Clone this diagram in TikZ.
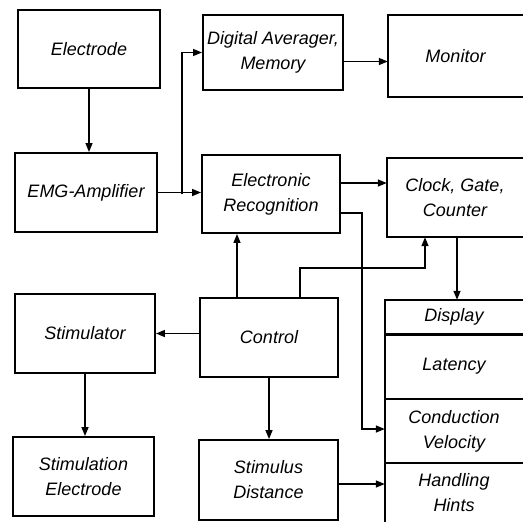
\documentclass[tikz,border=0pt]{standalone}
\usepackage{fontspec}
\setmainfont{Liberation Sans}
\usetikzlibrary{positioning,arrows.meta}

\begin{document}
\begin{tikzpicture}[
    x=1pt, y=-1pt,
    every node/.style={font=\fontsize{18}{25}\selectfont\itshape},
    blockStyle/.style={draw, line width=1.9pt, align=center, inner sep=0pt},
    openBlock/.style={align=center, inner sep=0pt},
    boxLine/.style={line width=1.9pt},
    flowArrow/.style={-{Triangle[length=9pt,width=7pt]}, line width=1.4pt}
]
    \useasboundingbox (0,0) rectangle (524,522);

    % Colonna di sinistra
    \node[blockStyle, minimum width=142pt, minimum height=78pt] (electrode) at (89,49) {Electrode};
    \node[blockStyle, minimum width=142pt, minimum height=79pt] (amplifier) at (86,192.5) {EMG-Amplifier};
    \node[blockStyle, minimum width=140pt, minimum height=79pt] (stimulator) at (85,333.5) {Stimulator};
    \node[blockStyle, minimum width=141pt, minimum height=79pt] (stimElectrode) at (83.5,476.5) {Stimulation\\Electrode};

    % Colonna centrale
    \node[blockStyle, minimum width=140pt, minimum height=75pt] (averager) at (273,52.5) {Digital Averager,\\Memory};
    \node[blockStyle, minimum width=138pt, minimum height=78pt] (recognition) at (271,194) {Electronic\\Recognition};
    \node[blockStyle, minimum width=138pt, minimum height=79pt] (control) at (269,337.5) {Control};
    \node[blockStyle, minimum width=139pt, minimum height=80pt] (distance) at (268.5,480) {Stimulus\\Distance};

    % Colonna di destra (aperta sul bordo destro)
    \node[openBlock, minimum width=135pt, minimum height=81pt] (monitor) at (455.5,56) {Monitor};
    \node[openBlock, minimum width=136pt, minimum height=79pt] (clock) at (455,197.5) {Clock, Gate,\\Counter};
    \node[openBlock, minimum width=138pt, minimum height=34pt] (display) at (454,317) {Display};
    \node[openBlock, minimum width=138pt, minimum height=65pt] (latency) at (454,366.5) {Latency};
    \node[openBlock, minimum width=138pt, minimum height=64pt] (conduction) at (454,431) {Conduction\\Velocity};
    \node[openBlock, minimum width=138pt, minimum height=59pt] (hints) at (454,492.5) {Handling\\Hints};
    \foreach \panel in {monitor,clock,display,latency,conduction}
        \draw[boxLine] (\panel.north east) -- (\panel.north west) |- (\panel.south east);
    \draw[boxLine] (hints.north east) -- (hints.north west) -- (hints.south west);
    \draw[line width=3pt] (display.south west) -- (display.south east);

    % Punti di diramazione
    \coordinate (split) at (182,194);
    \coordinate (bend) at (362,429);
    \coordinate (tap) at (425,268);

    % Collegamenti
    \draw[flowArrow] (electrode.south) -- (electrode.south |- amplifier.north);
    \draw[flowArrow] (amplifier.east) -- (amplifier.east -| recognition.west);
    \draw[flowArrow] (split) |- (averager.west);
    \draw[flowArrow] ([yshift=-9pt]averager.east) -- ([yshift=-9pt]averager.east -| monitor.west);
    \draw[flowArrow] ([yshift=11pt]recognition.east) -- ([yshift=11pt]recognition.east -| clock.west);
    \draw[flowArrow] ([yshift=-19pt]recognition.east) -| (bend) -- (bend -| conduction.west);
    \draw[flowArrow] ([xshift=-32pt]control.north) -- ([xshift=-32pt]control.north |- recognition.south);
    \draw[flowArrow] ([xshift=31pt]control.north) |- (tap) -- (tap |- clock.south);
    \draw[flowArrow] ([xshift=2pt]clock.south) -- ([xshift=2pt]clock.south |- display.north);
    \draw[flowArrow] ([yshift=4pt]control.west) -- ([yshift=4pt]control.west -| stimulator.east);
    \draw[flowArrow] (stimulator.south) -- (stimulator.south |- stimElectrode.north);
    \draw[flowArrow] (control.south) -- (control.south |- distance.north);
    \draw[flowArrow] ([yshift=-4pt]distance.east) -- ([yshift=-4pt]distance.east -| hints.west);
\end{tikzpicture}
\end{document}
